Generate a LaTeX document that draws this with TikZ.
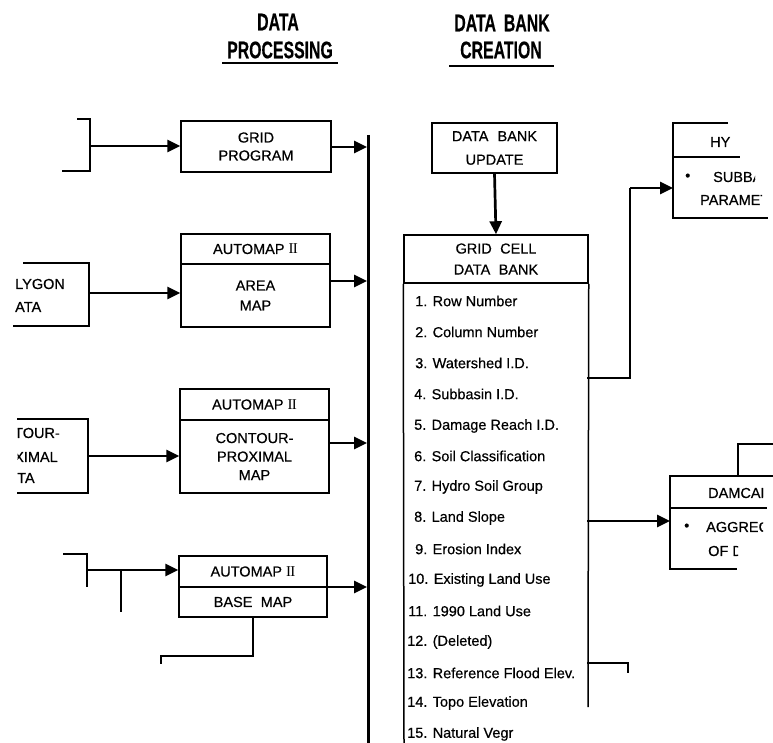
\documentclass[tikz,border=0pt]{standalone}
\usepackage{fontspec}
\usepackage{graphicx}
\setmainfont{Liberation Sans}[FakeBold=0.5]
\newfontfamily\serfnt{Liberation Serif}
\usetikzlibrary{arrows.meta}
\newcommand\bxfont{\fontsize{14.5}{18}\selectfont}
\newcommand\hdrtxt[1]{\scalebox{0.66}[1]{\fontsize{24}{24}\selectfont\bfseries #1}}
\newcommand\romtwo{{\serfnt\fontsize{15}{15}\selectfont I\kern-0.6pt I}}
\begin{document}
\begin{tikzpicture}[x=1pt,y=-1pt,
  box/.style={draw, line width=1.5pt, inner sep=0pt, align=center, font=\bxfont},
  txt/.style={inner sep=0pt, font=\bxfont, anchor=west},
  thinln/.style={line width=1.5pt},
  medln/.style={line width=2pt},
  conn/.style={line width=2.7pt},
  arr/.style={line width=2.7pt, -{Triangle[length=13pt,width=12pt]}},
  hdr/.style={inner sep=0pt}]
\useasboundingbox (0,0) rectangle (773,743);

% headers
\node[hdr] (h1a) at (278,22) {\hdrtxt{DATA}};
\node[hdr] (h1b) at (280,50) {\hdrtxt{PROCESSING}};
\draw[thinln] (222,63) -- (338,63);
\node[hdr] (h2a) at (502,23) {\hdrtxt{DATA\hspace{0.5em}BANK}};
\node[hdr] (h2b) at (501,50) {\hdrtxt{CREATION}};
\draw[thinln] (449,66) -- (554,66);

% bus
\coordinate (bustop) at (368,135);
\coordinate (busbot) at (368,743);
\draw[line width=3pt] (bustop) -- (busbot);
\coordinate (b1) at (367,147);
\coordinate (b2) at (367,281);
\coordinate (b3) at (367,443);
\coordinate (b4) at (367,587);

% processing boxes
\node[box, minimum width=150pt, minimum height=51pt] (gp) at (256,146.5) {GRID\\PROGRAM};
\node[box, minimum width=149pt, minimum height=30pt] (am1t) at (255.5,249) {AUTOMAP \romtwo};
\node[box, minimum width=149pt, minimum height=63pt, font=\fontsize{14.5}{20}\selectfont] (am1b) at (255.5,295.5) {AREA\\MAP};
\node[box, minimum width=149pt, minimum height=31pt] (am2t) at (254.5,404.5) {AUTOMAP \romtwo};
\node[box, minimum width=149pt, minimum height=73pt, font=\fontsize{14.5}{18.5}\selectfont] (am2b) at (254.5,456.5) {CONTOUR-\\PROXIMAL\\MAP};
\node[box, minimum width=148pt, minimum height=31pt] (am3t) at (253,571.5) {AUTOMAP \romtwo};
\node[box, minimum width=148pt, minimum height=30pt] (am3b) at (253,602) {BASE\hspace{0.3em} MAP};

\draw[arr] (gp.east |- b1) -- (b1);
\draw[arr] (am1b.east |- b2) -- (b2);
\draw[arr] (am2b.east |- b3) -- (b3);
\draw[arr] (am3b.north east |- b4) -- (b4);

% left inputs
\coordinate (g1) at (77,119); \coordinate (g2) at (90,119);
\coordinate (g3) at (90,171); \coordinate (g4) at (62,171);
\draw[medln] (g1) -- (g2) -- (g3) -- (g4);
\coordinate (gin) at (90,146);
\draw[arr] (gin) -- (gp.west |- gin);

\coordinate (p1) at (23,263); \coordinate (p2) at (89,263);
\coordinate (p3) at (89,326); \coordinate (p4) at (13,326);
\draw[medln] (p1) -- (p2) -- (p3) -- (p4);
\node[txt] (pt1) at (15,284) {LYGON};
\node[txt] (pt2) at (15,307) {ATA};
\coordinate (pin) at (89,293);
\draw[arr] (pin) -- (am1b.west |- pin);

\coordinate (c1) at (17,419); \coordinate (c2) at (88,419);
\coordinate (c3) at (88,493); \coordinate (c4) at (17,493);
\draw[medln] (c1) -- (c2) -- (c3) -- (c4);
\begin{scope}
  \clip (17.5,415) rectangle (86,495);
  \node[txt] (ct1) at (14,433) {TOUR-};
  \node[txt] (ct2) at (14,457) {XIMAL};
  \node[txt] (ct3) at (17,478) {TA};
\end{scope}
\coordinate (cin) at (88,456);
\draw[arr] (cin) -- (am2b.west |- cin);

\coordinate (s1) at (63,554); \coordinate (s2) at (87,554);
\coordinate (s3) at (87,587);
\draw[medln] (s1) -- (s2) -- (s3);
\coordinate (bin) at (87,570);
\draw[arr] (bin) -- (am3t.west |- bin);
\coordinate (t1) at (121,570); \coordinate (t2) at (121,612);
\draw[conn] (t1) -- (t2);
\coordinate (u1) at (253,656); \coordinate (u2) at (161,656); \coordinate (u3) at (161,664);
\draw[conn] (am3b.south) -- (u1) -- (u2) -- (u3);

% data bank creation
\node[box, minimum width=125pt, minimum height=50pt, font=\fontsize{14.5}{23.5}\selectfont] (dbu) at (494.5,148) {DATA\hspace{0.35em} BANK\\UPDATE};
\node[box, minimum width=184pt, minimum height=48pt, font=\fontsize{14.5}{21}\selectfont] (gc) at (496,259) {GRID\hspace{0.3em} CELL\\DATA\hspace{0.3em} BANK};
\draw[arr] (dbu.south) -- (gc.north);
\coordinate (lb) at (404,743);
\coordinate (rb) at (588,707);
\draw[thinln] (gc.south west) -- (lb);
\draw[thinln] (gc.south east) -- (rb);

\node[txt] (i1) at (415,301) {1. Row Number};
\node[txt] (i2) at (415,332) {2. Column Number};
\node[txt] (i3) at (415,363) {3. Watershed I.D.};
\node[txt] (i4) at (414,394) {4. Subbasin I.D.};
\node[txt] (i5) at (414,426) {5. Damage Reach I.D.};
\node[txt] (i6) at (414,456) {6. Soil Classification};
\node[txt] (i7) at (414,487) {7. Hydro Soil Group};
\node[txt] (i8) at (414,518) {8. Land Slope};
\node[txt] (i9) at (415,549) {9. Erosion Index};
\node[txt] (i10) at (408,580) {10. Existing Land Use};
\node[txt] (i11) at (408,611) {11. 1990 Land Use};
\node[txt] (i12) at (407,642) {12. (Deleted)};
\node[txt] (i13) at (407,673) {13. Reference Flood Elev.};
\node[txt] (i14) at (407,703) {14. Topo Elevation};
\node[txt] (i15) at (407,734) {15. Natural Vegr};

% HY box
\coordinate (hy1) at (673,123); \coordinate (hy2) at (728,123);
\coordinate (hy3) at (673,157); \coordinate (hy4) at (740,157);
\coordinate (hy5) at (673,218); \coordinate (hy6) at (768,218);
\draw[thinln] (hy2) -- (hy1) -- (hy5) -- (hy6);
\draw[thinln] (hy3) -- (hy4);
\node[txt] (hyt) at (710,142) {HY};
\node[txt] (hyb) at (685,177) {•};
\begin{scope}
  \clip (690,160) rectangle (755,212);
  \node[txt] (hyt2) at (713,177) {SUBBA};
\end{scope}
\begin{scope}
  \clip (690,160) rectangle (762,212);
  \node[txt] (hyt3) at (700,200) {PARAMET};
\end{scope}

\coordinate (lr1) at (587,378);
\coordinate (lr2) at (630,378);
\coordinate (lr3) at (630,188);
\coordinate (hyin) at (673,188);
\draw[conn] (lr1) -- (lr2) -- (lr3);
\draw[arr] (lr3) -- (hyin);

% DAMCAL box
\coordinate (d1) at (773,476); \coordinate (d2) at (670,476);
\coordinate (d3) at (670,569); \coordinate (d4) at (737,569);
\coordinate (d5) at (670,508); \coordinate (d6) at (767,508);
\draw[thinln] (d1) -- (d2) -- (d3) -- (d4);
\draw[thinln] (d5) -- (d6);
\begin{scope}
  \clip (680,480) rectangle (763,505);
  \node[txt] (dt1) at (708,493) {DAMCAL};
\end{scope}
\node[txt] (db) at (684,527) {•};
\begin{scope}
  \clip (680,512) rectangle (763,540);
  \node[txt] (dt2) at (706,527) {AGGREG};
\end{scope}
\begin{scope}
  \clip (680,540) rectangle (738,565);
  \node[txt] (dt3) at (708,551) {OF D};
\end{scope}
\coordinate (dm1) at (587,521);
\coordinate (dmin) at (670,521);
\draw[arr] (dm1) -- (dmin);
\coordinate (e1) at (738,476); \coordinate (e2) at (738,444); \coordinate (e3) at (773,444);
\draw[conn] (e1) -- (e2) -- (e3);

\coordinate (f1) at (587,663); \coordinate (f2) at (628,663); \coordinate (f3) at (628,673);
\draw[conn] (f1) -- (f2) -- (f3);
\end{tikzpicture}
\end{document}
